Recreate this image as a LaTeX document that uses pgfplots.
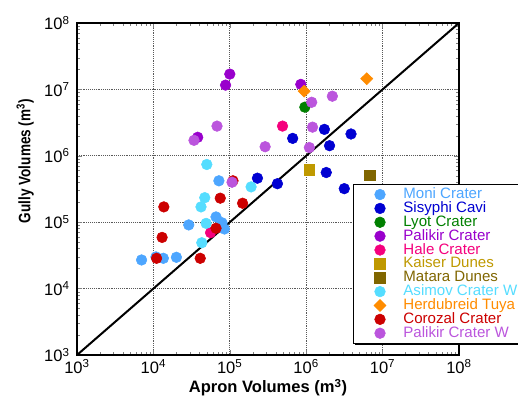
\documentclass[border=0pt]{standalone}
\usepackage{pgfplots}
\pgfplotsset{compat=1.18}
\usepackage{fontspec}
\setmainfont{Liberation Sans}
\usetikzlibrary{shadows}

\definecolor{moni}{RGB}{77,166,255}
\definecolor{sisyphi}{RGB}{0,0,210}
\definecolor{lyot}{RGB}{0,128,0}
\definecolor{palikir}{RGB}{153,0,204}
\definecolor{hale}{RGB}{245,0,125}
\definecolor{kaiser}{RGB}{191,153,0}
\definecolor{matara}{RGB}{128,102,0}
\definecolor{asimov}{RGB}{85,221,255}
\definecolor{herdu}{RGB}{255,140,0}
\definecolor{corozal}{RGB}{204,0,0}
\definecolor{palikirw}{RGB}{187,85,221}

\begin{document}
\begin{tikzpicture}
\useasboundingbox (-57.75pt,-33.75pt) rectangle (330.75pt,266.25pt);
\begin{axis}[
  at={(0,0)}, anchor=south west,
  scale only axis, width=286.5pt, height=249pt,
  xmode=log, ymode=log,
  xmin=1e3, xmax=1e8, ymin=1e3, ymax=1e8,
  xtick={1e3,1e4,1e5,1e6,1e7,1e8},
  ytick={1e3,1e4,1e5,1e6,1e7,1e8},
  xticklabels={10\textsuperscript{3},10\textsuperscript{4},10\textsuperscript{5},10\textsuperscript{6},10\textsuperscript{7},10\textsuperscript{8}},
  yticklabels={10\textsuperscript{3},10\textsuperscript{4},10\textsuperscript{5},10\textsuperscript{6},10\textsuperscript{7},10\textsuperscript{8}},
  tick label style={font=\fontsize{12.4}{14}\selectfont},
  yticklabel style={xshift=-2pt},
  major tick length=3.75pt, minor tick length=2.5pt,
  axis line style={line width=0.9pt},
  grid=major, major grid style={densely dotted, black!65, line width=0.6pt},
  xlabel={\textbf{Apron Volumes (m\textsuperscript{3})}},
  xlabel style={font=\fontsize{12.4}{14}\selectfont, at={(axis description cs:0.5,0)}, anchor=base, yshift=-28.5pt},
  ylabel={\scalebox{0.82}[1]{\textbf{Gully Volumes (m\textsuperscript{3})}}},
  ylabel style={font=\fontsize{12.4}{14}\selectfont, at={(axis description cs:-0.122,0.584)}, anchor=base},
  legend cell align=left,
  legend style={at={(0.7225,0.515)}, anchor=north west, draw=black, fill=white,
    drop shadow={shadow xshift=1.5pt, shadow yshift=-1.5pt, fill=black, opacity=1},
    font=\fontsize{11.3}{12}\selectfont,
    nodes={inner sep=0pt, text height=8.2pt, text depth=2.2pt},
    row sep=0pt, column sep=13pt, inner xsep=15.5pt, inner ysep=2.5pt},
]
\addplot[only marks, mark=*, color=moni, mark size=4pt] coordinates {
  (7.2e4,4.2e5) (2.9e4,9.1e4) (6.6e4,1.2e5) (7.9e4,9.8e4) (8.5e4,7.9e4)
  (7.0e3,2.7e4) (1.08e4,3.0e4) (1.35e4,2.86e4) (2.0e4,2.96e4)
};
\addlegendentry[text=moni]{Moni Crater}
\addplot[only marks, mark=*, color=sisyphi, mark size=4pt] coordinates {
  (2.3e5,4.6e5) (4.2e5,3.8e5) (6.65e5,1.83e6) (1.73e6,2.5e6) (2.02e6,1.42e6)
  (3.86e6,2.13e6) (1.83e6,5.6e5) (3.15e6,3.2e5)
};
\addlegendentry[text=sisyphi]{Sisyphi Cavi}
\addplot[only marks, mark=*, color=lyot, mark size=4pt] coordinates {
  (9.6e5,5.4e6)
};
\addlegendentry[text=lyot]{Lyot Crater}
\addplot[only marks, mark=*, color=palikir, mark size=4pt] coordinates {
  (1.0e5,1.7e7) (8.8e4,1.16e7) (8.5e5,1.19e7) (3.8e4,1.9e6)
};
\addlegendentry[text=palikir]{Palikir Crater}
\addplot[only marks, mark=*, color=hale, mark size=4pt] coordinates {
  (5.6e4,6.95e4) (4.9e5,2.8e6)
};
\addlegendentry[text=hale]{Hale Crater}
\addplot[only marks, mark=square*, color=kaiser, mark size=4pt] coordinates {
  (1.1e6,6.2e5)
};
\addlegendentry[text=kaiser]{Kaiser Dunes}
\addplot[only marks, mark=square*, color=matara, mark size=4pt] coordinates {
  (6.8e6,5.1e5)
};
\addlegendentry[text=matara]{Matara Dunes}
\addplot[only marks, mark=*, color=asimov, mark size=4pt] coordinates {
  (5.0e4,7.4e5) (1.9e5,3.4e5) (4.7e4,2.34e5) (4.2e4,1.7e5) (4.9e4,9.6e4)
  (4.3e4,4.9e4)
};
\addlegendentry[text=asimov]{Asimov Crater W}
\addplot[only marks, mark=diamond*, color=herdu, mark size=4.5pt, mark options={xscale=1.35}] coordinates {
  (6.2e6,1.45e7) (9.4e5,9.4e6)
};
\addlegendentry[text=herdu]{Herdubreid Tuya}
\addplot[only marks, mark=*, color=corozal, mark size=4pt] coordinates {
  (1.1e5,4.2e5) (7.5e4,2.3e5) (1.47e5,1.93e5) (1.37e4,1.7e5) (6.6e4,8.1e4)
  (1.3e4,5.9e4) (1.1e4,2.86e4) (4.1e4,2.86e4)
};
\addlegendentry[text=corozal]{Corozal Crater}
\addplot[only marks, mark=*, color=palikirw, mark size=4pt] coordinates {
  (6.8e4,2.8e6) (3.4e4,1.71e6) (1.18e6,6.4e6) (2.2e6,7.9e6) (1.21e6,2.7e6)
  (2.9e5,1.37e6) (1.1e6,1.33e6) (1.07e5,4.0e5)
};
\addlegendentry[text=palikirw]{Palikir Crater W}
\addplot[black, line width=1.5pt, no marks, forget plot] coordinates {(1e3,1e3) (1e8,1e8)};
\end{axis}
\end{tikzpicture}
\end{document}
